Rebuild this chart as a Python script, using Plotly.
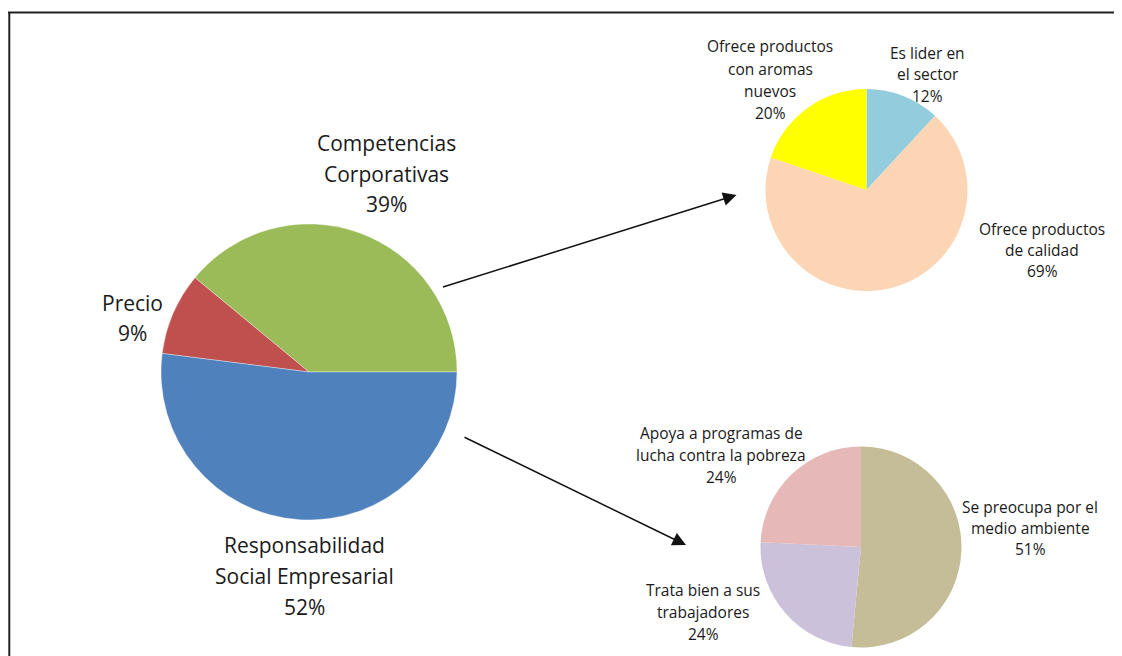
import plotly.graph_objects as go

# page is 1122x656; the html body adds an 8px margin around the figure
PAGE_W, PAGE_H = 1122, 656
OFF = 8
W, H = PAGE_W - OFF, PAGE_H - OFF

# ---- data ----
main_labels = ["Competencias\nCorporativas", "Precio", "Responsabilidad\nSocial Empresarial"]
main_values = [39, 9, 52]
main_colors = ["#9BBB59", "#C0504D", "#4F81BD"]

comp_labels = ["Es lider en\nel sector", "Ofrece productos\nde calidad", "Ofrece productos\ncon aromas\nnuevos"]
comp_values = [12, 69, 20]
comp_colors = ["#93CDDD", "#FCD5B5", "#FFFF00"]

rse_labels = ["Se preocupa por el\nmedio ambiente", "Trata bien a sus\ntrabajadores", "Apoya a programas de\nlucha contra la pobreza"]
rse_values = [51, 24, 24]
rse_colors = ["#C4BD97", "#CCC1DA", "#E6B9B8"]

FONT = "Open Sans, Carlito, Calibri, sans-serif"


def px_x(x):
    return (x - OFF) / W


def px_y(y):
    return 1 - (y - OFF) / H


def dom(cx, cy, r):
    return dict(x=[px_x(cx - r), px_x(cx + r)], y=[px_y(cy + r), px_y(cy - r)])


fig = go.Figure()

# first slice (Competencias) starts at 3 o'clock and runs counterclockwise
main_rot = 90 - 360 * main_values[0] / sum(main_values)
fig.add_trace(go.Pie(
    labels=[l.replace("\n", " ") for l in main_labels], values=main_values,
    marker=dict(colors=main_colors, line=dict(width=0.6, color="rgba(255,255,255,0.6)")),
    sort=False, direction="counterclockwise", rotation=main_rot,
    textinfo="none", hoverinfo="label+value", domain=dom(309, 372, 148),
    showlegend=False,
))
fig.add_trace(go.Pie(
    labels=[l.replace("\n", " ") for l in comp_labels], values=comp_values,
    marker=dict(colors=comp_colors, line=dict(width=0)),
    sort=False, direction="clockwise", rotation=0,
    textinfo="none", hoverinfo="label+value", domain=dom(866.5, 190, 101),
    showlegend=False,
))
fig.add_trace(go.Pie(
    labels=[l.replace("\n", " ") for l in rse_labels], values=rse_values,
    marker=dict(colors=rse_colors, line=dict(width=0)),
    sort=False, direction="clockwise", rotation=0,
    textinfo="none", hoverinfo="label+value", domain=dom(861, 547, 100.5),
    showlegend=False,
))

annotations = []


def add_label(label, value, cx, cy_first, spacing, size):
    lines = label.split("\n") + [f"{value}%"]
    for i, ln in enumerate(lines):
        annotations.append(dict(
            x=px_x(cx), y=px_y(cy_first + i * spacing), xref="paper", yref="paper",
            text=ln, showarrow=False, xanchor="center", yanchor="middle",
            font=dict(family=FONT, size=size, color="#1a1a1a"),
        ))


# main pie labels
main_pos = [(386, 143, 30.5), (132, 303, 30.5), (304, 545, 31)]
for lab, val, (cx, cy, sp) in zip(main_labels, main_values, main_pos):
    add_label(lab, val, cx, cy, sp, 21)

comp_pos = [(927.5, 52.5, 21.5), (1042, 229, 21), (770, 46.5, 22)]
for lab, val, (cx, cy, sp) in zip(comp_labels, comp_values, comp_pos):
    add_label(lab, val, cx, cy, sp, 15.5)

rse_pos = [(1030, 506.5, 21), (703, 590, 22), (721, 433, 22)]
for lab, val, (cx, cy, sp) in zip(rse_labels, rse_values, rse_pos):
    add_label(lab, val, cx, cy, sp, 15.5)

# arrows
for (tx, ty), (sx, sy) in [((736.5, 195), (441.5, 287.5)), ((686, 545), (463, 436.5))]:
    annotations.append(dict(
        x=px_x(tx), y=px_y(ty), xref="paper", yref="paper",
        ax=sx - tx, ay=sy - ty, axref="pixel", ayref="pixel",
        text="", showarrow=True, arrowhead=2, arrowsize=1.8, arrowwidth=1.5,
        arrowcolor="#111111", standoff=0,
    ))

shapes = [
    dict(type="line", xref="paper", yref="paper", x0=px_x(8), x1=1.0, y0=px_y(12.5), y1=px_y(12.5),
         line=dict(color="#222222", width=2)),
    dict(type="line", xref="paper", yref="paper", x0=px_x(9.3), x1=px_x(9.3), y0=px_y(12), y1=0,
         line=dict(color="#222222", width=2)),
]

fig.update_layout(
    width=W, height=H,
    margin=dict(l=0, r=0, t=0, b=0),
    paper_bgcolor="white", plot_bgcolor="white",
    annotations=annotations, shapes=shapes,
    showlegend=False,
)

fig.write_html("out.html")
